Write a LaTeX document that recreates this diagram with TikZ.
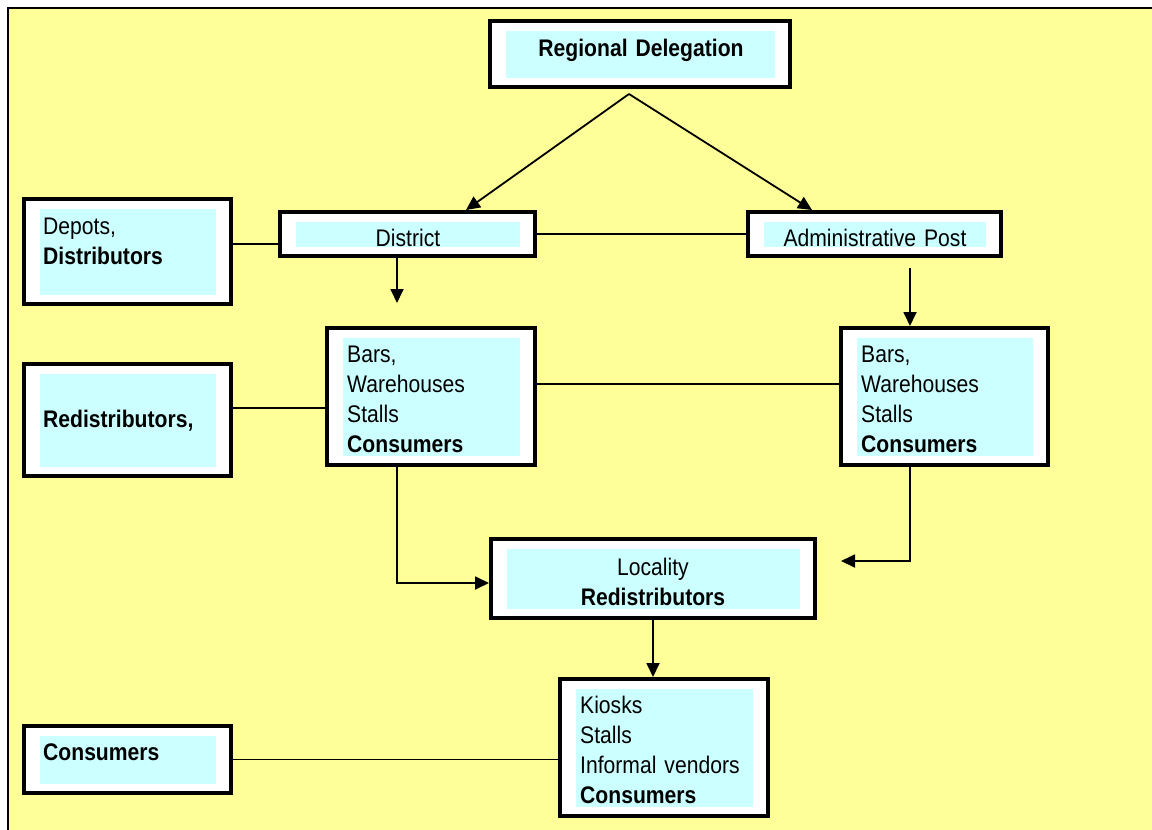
\documentclass[tikz,border=0pt]{standalone}
\usepackage{fontspec}
\setmainfont{Liberation Sans}[FakeStretch=0.88]
\usetikzlibrary{arrows.meta}
\definecolor{bgyellow}{HTML}{FFFF99}
\definecolor{boxcyan}{HTML}{CCFFFF}
\begin{document}
\begin{tikzpicture}[x=1pt,y=-1pt,
  box/.style={rectangle, draw=black, line width=4pt, fill=white, inner sep=0pt,
    path picture={\fill[boxcyan]
      ([xshift=16pt,yshift=-10pt]path picture bounding box.north west) rectangle
      ([xshift=-15pt,yshift=9pt]path picture bounding box.south east);}},
  lbl/.style={inner sep=0pt, anchor=base west, text width=180pt, align=left,
    font=\fontsize{24}{30}\selectfont},
  clbl/.style={inner sep=0pt, anchor=base, text width=300pt, align=center,
    font=\fontsize{24}{30}\selectfont},
  link/.style={line width=1.8pt},
  arr/.style={line width=1.8pt, -{Triangle[length=14pt,width=13pt]}}]
\useasboundingbox (0,0) rectangle (1152,830);
\begin{scope}
  \clip (0,0) rectangle (1152,830);
  \draw[fill=bgyellow, line width=2.5pt] (8,8) rectangle (1180,860);
\end{scope}

% boxes
\node[box, minimum width=300pt, minimum height=66pt]  (reg)    at (640,54) {};
\node[box, minimum width=255pt, minimum height=44pt]  (dist)   at (407.5,234) {};
\node[box, minimum width=253pt, minimum height=44pt]  (adm)    at (874.5,234) {};
\node[box, minimum width=207pt, minimum height=105pt] (dep)    at (127.5,251.5) {};
\node[box, minimum width=207pt, minimum height=112pt] (redis)  at (127.5,420) {};
\node[box, minimum width=208pt, minimum height=137pt] (bars1)  at (431,396.5) {};
\node[box, minimum width=207pt, minimum height=137pt] (bars2)  at (944.5,396.5) {};
\node[box, minimum width=324pt, minimum height=79pt]  (loc)    at (653,578.5) {};
\node[box, minimum width=208pt, minimum height=137pt] (kiosk)  at (664,747.5) {};
\node[box, minimum width=207pt, minimum height=67pt]  (cons)   at (127.5,759.5) {};

% texts
\node[clbl] (treg)  at (641,56)  {\textbf{Regional Delegation}};
\node[clbl] (tdist) at (408,246) {District};
\node[clbl] (tadm)  at (875,246) {Administrative Post};
\node[lbl]  (tdep)  at (43,234)  {Depots,\\\textbf{Distributors}};
\node[lbl]  (tred)  at (43,427)  {\textbf{Redistributors,}};
\node[lbl]  (tb1)   at (347,362) {Bars,\\Warehouses\\Stalls\\\textbf{Consumers}};
\node[lbl]  (tb2)   at (861,362) {Bars,\\Warehouses\\Stalls\\\textbf{Consumers}};
\node[clbl] (tloc)  at (653,575) {Locality\\\textbf{Redistributors}};
\node[lbl]  (tki)   at (580,713) {Kiosks\\Stalls\\Informal vendors\\\textbf{Consumers}};
\node[lbl]  (tcon)  at (43,760)  {\textbf{Consumers}};

% helper points
\coordinate (apex)   at (629,94);
\coordinate (tipL)   at (466,0);
\coordinate (tipR)   at (812,0);
\coordinate (colL)   at (397,0);
\coordinate (distEnd) at (397,303);
\coordinate (admStart) at (910,268);
\coordinate (rowA)   at (0,244);
\coordinate (rowB)   at (0,408);
\coordinate (rowC)   at (0,384);
\coordinate (rowL)   at (0,583);
\coordinate (rEnd)   at (841,561);

% connectors
\draw[arr] (apex) -- (dist.north -| tipL);
\draw[arr] (apex) -- (adm.north -| tipR);
\draw[link] (dep.east |- rowA) -- (dist.west |- rowA);
\draw[link] (dist.east) -- (adm.west);
\draw[arr] (dist.south -| distEnd) -- (distEnd);
\draw[arr] (admStart) -- (bars2.north -| admStart);
\draw[link] (redis.east |- rowB) -- (bars1.west |- rowB);
\draw[link] (bars1.east |- rowC) -- (bars2.west |- rowC);
\draw[arr] (bars1.south -| colL) |- (loc.west |- rowL);
\draw[arr] (bars2.south -| admStart) |- (rEnd);
\draw[arr] (loc.south) -- (kiosk.north -| loc.south);
\draw[link] (cons.east) -- (kiosk.west |- cons.east);
\end{tikzpicture}
\end{document}
